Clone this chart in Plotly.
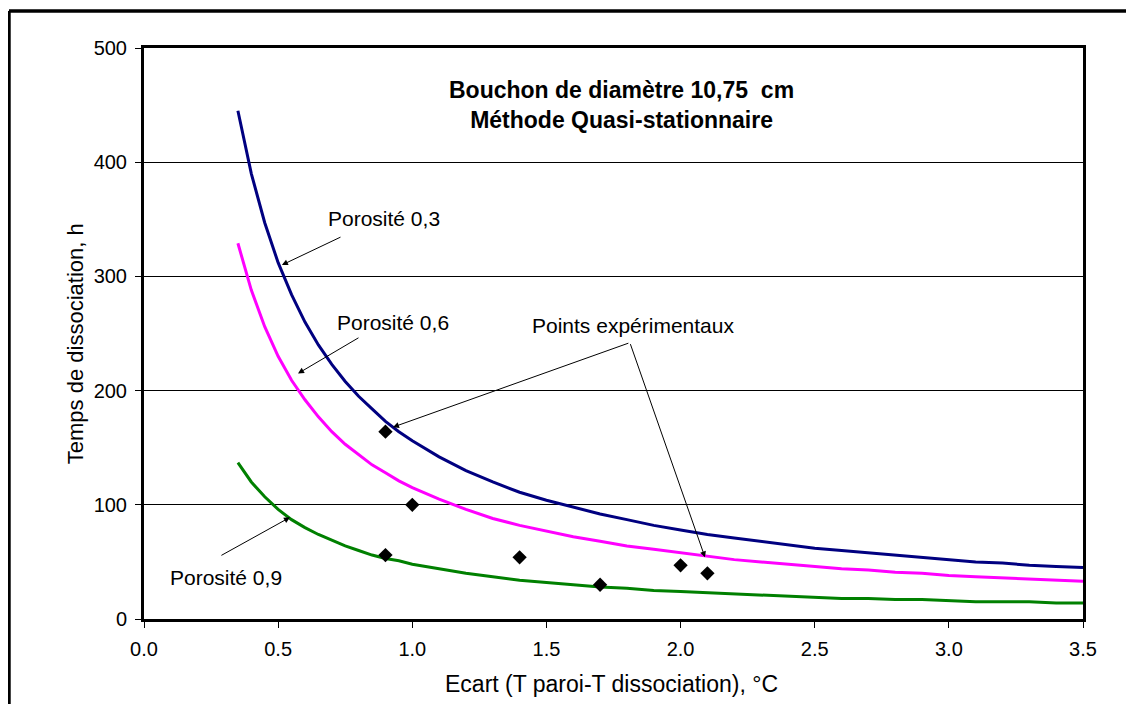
import plotly.graph_objects as go

# ---- data ----
x_curve = [0.35, 0.4, 0.45, 0.5, 0.55, 0.6, 0.65, 0.7, 0.75, 0.8, 0.85, 0.9, 0.95, 1.0,
           1.1, 1.2, 1.3, 1.4, 1.5, 1.6, 1.7, 1.8, 1.9, 2.0, 2.1, 2.2, 2.3, 2.4, 2.5,
           2.6, 2.7, 2.8, 2.9, 3.0, 3.1, 3.2, 3.3, 3.4, 3.5]
por_03 = [445, 390, 347, 312, 284, 260, 240, 223, 208, 195, 184, 173, 164, 156,
          142, 130, 120, 111, 104, 98, 92, 87, 82, 78, 74, 71, 68, 65, 62,
          60, 58, 56, 54, 52, 50, 49, 47, 46, 45]
por_06 = [329, 288, 256, 230, 209, 192, 177, 164, 153, 144, 135, 128, 121, 115,
          105, 96, 88, 82, 77, 72, 68, 64, 61, 58, 55, 52, 50, 48, 46,
          44, 43, 41, 40, 38, 37, 36, 35, 34, 33]
por_09 = [137, 120, 107, 96, 87, 80, 74, 69, 64, 60, 56, 53, 51, 48,
          44, 40, 37, 34, 32, 30, 28, 27, 25, 24, 23, 22, 21, 20, 19,
          18, 18, 17, 17, 16, 15, 15, 15, 14, 14]
x_exp = [0.9, 0.9, 1.0, 1.4, 1.7, 2.0, 2.1]
y_exp = [164, 56, 100, 54, 30, 47, 40]

x_ticks = [0.0, 0.5, 1.0, 1.5, 2.0, 2.5, 3.0, 3.5]
y_ticks = [0, 100, 200, 300, 400, 500]

FONT = "Liberation Sans, Arial, sans-serif"

fig = go.Figure()
fig.add_trace(go.Scatter(x=x_curve, y=por_03, mode="lines",
                         line=dict(color="#000080", width=3), name="Porosité 0,3"))
fig.add_trace(go.Scatter(x=x_curve, y=por_06, mode="lines",
                         line=dict(color="#FF00FF", width=3), name="Porosité 0,6"))
fig.add_trace(go.Scatter(x=x_curve, y=por_09, mode="lines",
                         line=dict(color="#008000", width=3), name="Porosité 0,9"))
fig.add_trace(go.Scatter(x=x_exp, y=y_exp, mode="markers",
                         marker=dict(symbol="diamond", color="black", size=11),
                         name="Points expérimentaux"))

ann = []


def label(x, y, text, size=21, xref="x", yref="y", **kw):
    ann.append(dict(x=x, y=y, xref=xref, yref=yref, showarrow=False, text=text,
                    xanchor="center", yanchor="middle",
                    font=dict(family=FONT, size=size, color="black"), **kw))


label(0.509, 0.900, "<b>Bouchon de diamètre 10,75  cm<br>Méthode Quasi-stationnaire</b>",
      size=23, xref="paper", yref="paper", align="center")
label(0.895, 351, "Porosité 0,3")
label(0.928, 260, "Porosité 0,6")
label(1.823, 257, "Points expérimentaux")
label(0.306, 36, "Porosité 0,9")

# arrows (head x,y ; tail ax,ay)
arrows = [
    (0.514, 310, 0.738, 335),
    (0.574, 215, 0.805, 247),
    (0.928, 168, 1.811, 242),
    (2.091, 54, 1.811, 242),
    (0.544, 89, 0.283, 55),
]
for hx, hy, tx, ty in arrows:
    ann.append(dict(x=hx, y=hy, ax=tx, ay=ty, xref="x", yref="y", axref="x", ayref="y",
                    text="", showarrow=True, arrowhead=2, arrowsize=1.2, arrowwidth=1,
                    arrowcolor="black"))

# axis titles
label(0.498, -0.114, "Ecart (T paroi-T dissociation), °C", size=23,
      xref="paper", yref="paper")
label(-0.0735, 0.483, "Temps de dissociation, h", size=22,
      xref="paper", yref="paper", textangle=-90)

fx = -0.1438
fy = 1.0648
fig.update_layout(
    width=1118, height=696,
    margin=dict(l=136, r=43, t=40, b=85, autoexpand=False),
    paper_bgcolor="white", plot_bgcolor="white",
    showlegend=False,
    annotations=ann,
    font=dict(family=FONT, size=20, color="black"),
    shapes=[
        dict(type="line", xref="paper", yref="paper", x0=fx, x1=fx, y0=-0.5, y1=fy,
             line=dict(color="black", width=3.5), layer="below"),
        dict(type="line", xref="paper", yref="paper", x0=fx, x1=1.5, y0=fy, y1=fy,
             line=dict(color="black", width=3.5), layer="below"),
    ],
)
fig.update_xaxes(range=[0, 3.5], tickvals=x_ticks, ticktext=[f"{v:.1f}" for v in x_ticks],
                 showgrid=False, zeroline=False, showline=True, linecolor="black",
                 linewidth=3, mirror=True, ticks="outside", ticklen=6, tickwidth=1,
                 tickcolor="black", ticklabelstandoff=4,
                 tickfont=dict(family=FONT, size=20, color="black"))
fig.update_yaxes(range=[0, 500], tickvals=y_ticks, showgrid=True, gridcolor="black",
                 gridwidth=1, zeroline=False, showline=True, linecolor="black",
                 linewidth=3, mirror=True, ticks="outside", ticklen=6, tickwidth=1,
                 tickcolor="black", ticklabelstandoff=4,
                 tickfont=dict(family=FONT, size=20, color="black"))

fig.write_html("out.html")
